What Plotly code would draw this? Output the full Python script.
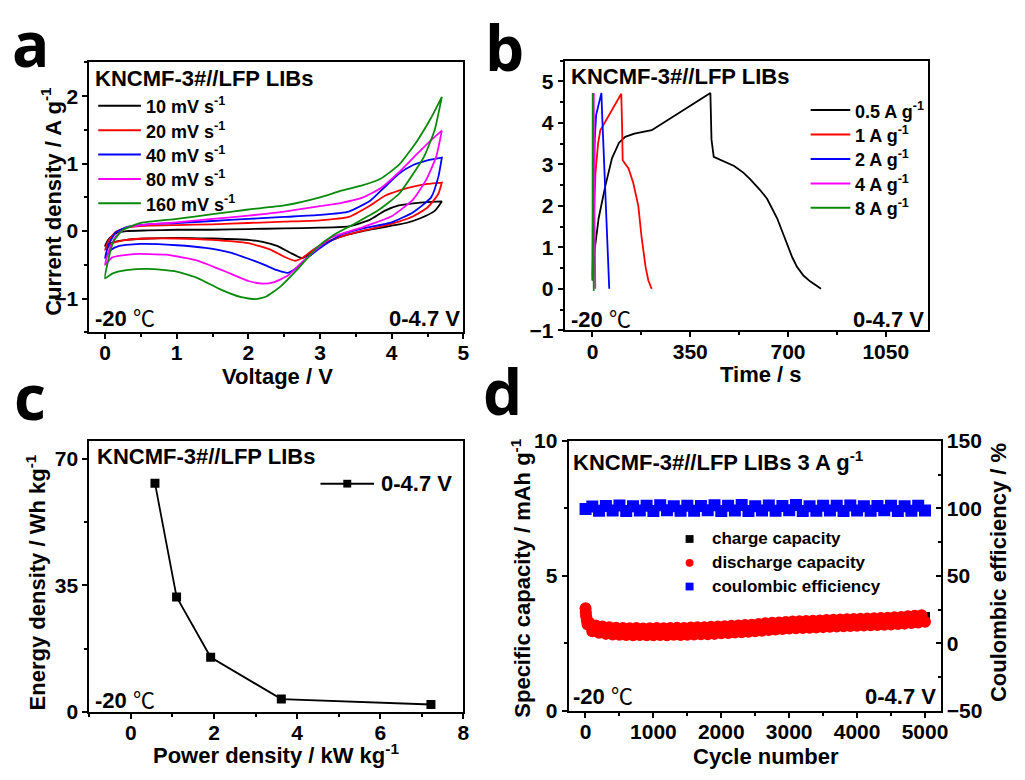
import plotly.graph_objects as go

W, H = 1025, 780
def X(px): return px / W
def Y(py): return 1 - py / H

FONT = "Liberation Sans, Arial, sans-serif"
GREEN = "#0a8a0a"

# ---------------- Panel a: CV curves ----------------
cv_labels = ["10 mV s<sup>-1</sup>", "20 mV s<sup>-1</sup>", "40 mV s<sup>-1</sup>",
             "80 mV s<sup>-1</sup>", "160 mV s<sup>-1</sup>"]
cv_colors = ["black", "red", "blue", "#ff00ff", GREEN]

cv10_fwd_v = [0, 0.05, 0.15, 0.3, 0.6, 1.0, 1.5, 2.0, 2.5, 3.0, 3.4, 3.7, 3.9, 4.1, 4.3, 4.5, 4.7]
cv10_fwd_i = [-0.22, -0.12, -0.03, 0.0, 0.01, 0.02, 0.02, 0.03, 0.04, 0.05, 0.07, 0.17, 0.30, 0.38, 0.41, 0.43, 0.44]
cv10_rev_v = [4.7, 4.6, 4.4, 4.2, 4.0, 3.8, 3.6, 3.4, 3.2, 3.0, 2.85, 2.75, 2.6, 2.4, 2.2, 2.0, 1.5, 1.0, 0.6, 0.3, 0.1, 0]
cv10_rev_i = [0.44, 0.30, 0.19, 0.12, 0.08, 0.04, 0.0, -0.05, -0.12, -0.22, -0.34, -0.40, -0.33, -0.22, -0.16, -0.13, -0.11, -0.10, -0.11, -0.13, -0.17, -0.22]

cv20_fwd_v = [0, 0.05, 0.15, 0.3, 0.6, 1.0, 1.5, 2.0, 2.5, 3.0, 3.4, 3.7, 3.9, 4.1, 4.3, 4.5, 4.7]
cv20_fwd_i = [-0.28, -0.14, -0.01, 0.05, 0.08, 0.09, 0.10, 0.12, 0.14, 0.16, 0.21, 0.38, 0.52, 0.60, 0.66, 0.70, 0.72]
cv20_rev_v = [4.7, 4.65, 4.5, 4.3, 4.1, 3.9, 3.7, 3.5, 3.3, 3.1, 2.9, 2.75, 2.65, 2.5, 2.3, 2.0, 1.5, 1.0, 0.6, 0.3, 0.1, 0]
cv20_rev_i = [0.72, 0.55, 0.35, 0.22, 0.14, 0.08, 0.03, -0.02, -0.08, -0.16, -0.28, -0.40, -0.44, -0.38, -0.27, -0.18, -0.13, -0.11, -0.11, -0.13, -0.18, -0.28]

cv40_fwd_v = [0, 0.05, 0.15, 0.3, 0.6, 1.0, 1.5, 2.0, 2.5, 3.0, 3.4, 3.7, 3.9, 4.1, 4.3, 4.5, 4.7]
cv40_fwd_i = [-0.40, -0.20, -0.02, 0.06, 0.10, 0.12, 0.15, 0.18, 0.21, 0.24, 0.29, 0.45, 0.65, 0.85, 0.98, 1.05, 1.09]
cv40_rev_v = [4.7, 4.65, 4.55, 4.3, 4.0, 3.6, 3.3, 3.0, 2.8, 2.68, 2.55, 2.4, 2.2, 2.0, 1.75, 1.4, 1.0, 0.5, 0.2, 0.08, 0]
cv40_rev_i = [1.09, 0.80, 0.50, 0.28, 0.13, 0.04, -0.05, -0.25, -0.42, -0.54, -0.62, -0.58, -0.49, -0.41, -0.32, -0.25, -0.21, -0.19, -0.22, -0.28, -0.40]

cv80_fwd_v = [0, 0.05, 0.15, 0.3, 0.6, 1.0, 1.5, 2.0, 2.5, 3.0, 3.3, 3.6, 3.85, 4.1, 4.35, 4.55, 4.7]
cv80_fwd_i = [-0.50, -0.30, -0.08, 0.05, 0.10, 0.13, 0.18, 0.23, 0.29, 0.37, 0.42, 0.50, 0.64, 0.87, 1.14, 1.35, 1.49]
cv80_rev_v = [4.7, 4.62, 4.48, 4.3, 4.0, 3.6, 3.15, 2.82, 2.55, 2.35, 2.2, 2.0, 1.75, 1.3, 0.85, 0.4, 0.1, 0]
cv80_rev_i = [1.49, 1.10, 0.76, 0.47, 0.22, 0.06, -0.10, -0.39, -0.66, -0.76, -0.78, -0.74, -0.63, -0.44, -0.35, -0.34, -0.39, -0.50]

cv160_fwd_v = [0, 0.04, 0.12, 0.25, 0.5, 1.0, 1.5, 2.0, 2.5, 3.0, 3.3, 3.6, 3.85, 4.1, 4.35, 4.55, 4.7]
cv160_fwd_i = [-0.70, -0.45, -0.15, 0.02, 0.12, 0.18, 0.25, 0.32, 0.38, 0.50, 0.60, 0.68, 0.78, 0.98, 1.33, 1.68, 1.99]
cv160_rev_v = [4.7, 4.6, 4.45, 4.3, 4.1, 3.8, 3.5, 3.2, 2.95, 2.7, 2.45, 2.25, 2.1, 1.9, 1.6, 1.3, 1.0, 0.6, 0.3, 0.1, 0]
cv160_rev_i = [1.99, 1.50, 1.10, 0.85, 0.55, 0.30, 0.12, -0.05, -0.25, -0.55, -0.82, -0.97, -1.01, -0.98, -0.86, -0.70, -0.60, -0.56, -0.58, -0.63, -0.70]

cv_sets = [
    (cv10_fwd_v, cv10_fwd_i, cv10_rev_v, cv10_rev_i),
    (cv20_fwd_v, cv20_fwd_i, cv20_rev_v, cv20_rev_i),
    (cv40_fwd_v, cv40_fwd_i, cv40_rev_v, cv40_rev_i),
    (cv80_fwd_v, cv80_fwd_i, cv80_rev_v, cv80_rev_i),
    (cv160_fwd_v, cv160_fwd_i, cv160_rev_v, cv160_rev_i),
]

# ---------------- Panel b: GCD curves ----------------
gcd_labels = ["0.5 A g<sup>-1</sup>", "1 A g<sup>-1</sup>", "2 A g<sup>-1</sup>",
              "4 A g<sup>-1</sup>", "8 A g<sup>-1</sup>"]
gcd05_t = [2, 8, 22, 46, 70, 95, 117, 150, 212, 282, 353, 422, 426, 434, 470, 507, 540, 566, 600, 625, 661, 696, 715, 732, 755, 779, 800, 818]
gcd05_v = [0.2, 0.95, 1.70, 2.48, 3.15, 3.52, 3.66, 3.74, 3.82, 4.11, 4.42, 4.72, 3.6, 3.18, 3.08, 2.96, 2.80, 2.63, 2.38, 2.17, 1.70, 1.07, 0.76, 0.53, 0.32, 0.18, 0.08, 0.0]
gcd1_t = [1, 4, 10.6, 20, 28, 60, 103, 106, 108, 129, 146, 164, 176, 190, 200, 212]
gcd1_v = [0.3, 1.5, 2.79, 3.5, 3.82, 4.2, 4.7, 3.9, 3.1, 2.9, 2.55, 2.0, 1.23, 0.53, 0.2, 0.0]
gcd2_t = [0.5, 3, 8, 13, 22, 32, 34, 45, 52, 60]
gcd2_v = [0.3, 2.0, 3.6, 4.19, 4.45, 4.72, 4.3, 2.6, 1.3, 0.0]
gcd4_t = [0, 2, 4.5, 7, 10]
gcd4_v = [0.2, 3.0, 4.72, 2.0, 0.0]
gcd8_t = [0, 0.8, 1.8, 3, 4.5]
gcd8_v = [0.2, 4.72, 3.0, 1.2, -0.05]
gcd_sets = [(gcd05_t, gcd05_v), (gcd1_t, gcd1_v), (gcd2_t, gcd2_v), (gcd4_t, gcd4_v), (gcd8_t, gcd8_v)]

# ---------------- Panel c: Ragone ----------------
power_density = [0.58, 1.10, 1.92, 3.62, 7.22]
energy_density = [63.3, 31.8, 15.1, 3.5, 2.0]

# ---------------- Panel d: cycling ----------------
cycles_100 = [1, 100, 200, 300, 400, 500, 600, 700, 800, 900, 1000,
              1100, 1200, 1300, 1400, 1500, 1600, 1700, 1800, 1900, 2000,
              2100, 2200, 2300, 2400, 2500, 2600, 2700, 2800, 2900, 3000,
              3100, 3200, 3300, 3400, 3500, 3600, 3700, 3800, 3900, 4000,
              4100, 4200, 4300, 4400, 4500, 4600, 4700, 4800, 4900, 5000]
charge_capacity = [3.70, 3.13, 3.07, 3.03, 3.01, 3.00, 2.99, 2.98, 2.98, 2.98, 2.98,
                   2.98, 2.98, 2.99, 2.99, 3.01, 3.01, 3.02, 3.02, 3.03, 3.05,
                   3.06, 3.08, 3.09, 3.11, 3.13, 3.15, 3.17, 3.19, 3.21, 3.23,
                   3.24, 3.25, 3.26, 3.27, 3.28, 3.29, 3.30, 3.32, 3.33, 3.34,
                   3.35, 3.36, 3.37, 3.38, 3.39, 3.41, 3.42, 3.44, 3.46, 3.48]
coulombic_eff = [99.5, 101.5, 98.2, 101.8, 98.5, 102.2, 98.0, 101.6, 98.4, 101.9,
                 98.1, 102.4, 98.6, 101.7, 98.2, 102.0, 98.3, 101.8, 98.7, 102.3,
                 98.1, 101.9, 98.4, 102.5, 98.0, 101.6, 98.5, 102.1, 98.2, 101.8,
                 98.6, 102.6, 98.1, 101.7, 98.3, 102.0, 98.5, 101.9, 98.0, 102.2,
                 98.4, 101.6, 98.2, 101.8, 98.6, 102.0, 98.1, 101.7, 98.3, 101.9,
                 98.5]
cycles_50 = [1, 5, 10, 20, 30,
             50, 100, 150, 200, 250, 300, 350, 400, 450, 500,
             550, 600, 650, 700, 750, 800, 850, 900, 950, 1000,
             1050, 1100, 1150, 1200, 1250, 1300, 1350, 1400, 1450, 1500,
             1550, 1600, 1650, 1700, 1750, 1800, 1850, 1900, 1950, 2000,
             2050, 2100, 2150, 2200, 2250, 2300, 2350, 2400, 2450, 2500,
             2550, 2600, 2650, 2700, 2750, 2800, 2850, 2900, 2950, 3000,
             3050, 3100, 3150, 3200, 3250, 3300, 3350, 3400, 3450, 3500,
             3550, 3600, 3650, 3700, 3750, 3800, 3850, 3900, 3950, 4000,
             4050, 4100, 4150, 4200, 4250, 4300, 4350, 4400, 4450, 4500,
             4550, 4600, 4650, 4700, 4750, 4800, 4850, 4900, 4950, 5000]
discharge_capacity = [3.80, 3.65, 3.50, 3.35, 3.20,
                      3.28, 2.95, 3.16, 2.89, 3.12, 2.85, 3.10, 2.83, 3.08, 2.82,
                      3.07, 2.81, 3.06, 2.80, 3.07, 2.81, 3.05, 2.80, 3.06, 2.80,
                      3.07, 2.81, 3.06, 2.80, 3.07, 2.82, 3.08, 2.81, 3.07, 2.82,
                      3.09, 2.83, 3.10, 2.84, 3.10, 2.84, 3.11, 2.85, 3.12, 2.87,
                      3.13, 2.88, 3.15, 2.90, 3.16, 2.91, 3.18, 2.93, 3.19, 2.95,
                      3.22, 2.97, 3.24, 2.99, 3.26, 3.01, 3.27, 3.03, 3.29, 3.05,
                      3.31, 3.06, 3.32, 3.07, 3.33, 3.08, 3.34, 3.09, 3.35, 3.10,
                      3.36, 3.11, 3.37, 3.12, 3.38, 3.13, 3.39, 3.14, 3.40, 3.15,
                      3.41, 3.16, 3.42, 3.17, 3.43, 3.18, 3.44, 3.19, 3.45, 3.20,
                      3.47, 3.22, 3.48, 3.23, 3.50, 3.25, 3.52, 3.27, 3.54, 3.30]

fig = go.Figure()

# panel a traces
for (fv, fi, rv, ri), col in zip(cv_sets, cv_colors):
    fig.add_trace(go.Scatter(x=fv + rv, y=fi + ri, mode="lines", xaxis="x", yaxis="y",
                             line=dict(color=col, width=1.8, shape="spline", smoothing=0.5),
                             showlegend=False))
# panel b traces
for (t, v), col in zip(gcd_sets, cv_colors):
    fig.add_trace(go.Scatter(x=t, y=v, mode="lines", xaxis="x2", yaxis="y2",
                             line=dict(color=col, width=1.8), showlegend=False))
# panel c trace
fig.add_trace(go.Scatter(x=power_density, y=energy_density, mode="lines+markers",
                         xaxis="x3", yaxis="y3", line=dict(color="black", width=1.8),
                         marker=dict(symbol="square", size=9, color="black"), showlegend=False))
# panel d traces
fig.add_trace(go.Scatter(x=cycles_100, y=coulombic_eff, mode="markers", xaxis="x4", yaxis="y5",
                         marker=dict(symbol="square", size=12, color="blue", line=dict(width=0)),
                         showlegend=False))
fig.add_trace(go.Scatter(x=cycles_100, y=charge_capacity, mode="markers", xaxis="x4", yaxis="y4",
                         marker=dict(symbol="square", size=10, color="black", line=dict(width=0)),
                         showlegend=False))
fig.add_trace(go.Scatter(x=cycles_50, y=discharge_capacity, mode="markers", xaxis="x4", yaxis="y4",
                         marker=dict(symbol="circle", size=12, color="red", line=dict(width=0)),
                         showlegend=False))

tickfont = dict(family=FONT, size=21, color="black", weight="bold")

def xax(domain, rng, dtick, minor_dtick, anchor, standoff=-4):
    return dict(domain=domain, range=rng, dtick=dtick, tick0=0, anchor=anchor,
                showline=True, linewidth=2, linecolor="black", mirror=True,
                ticks="outside", ticklen=5, tickwidth=2, tickcolor="black",
                ticklabelstandoff=standoff,
                minor=dict(dtick=minor_dtick, ticks="outside", ticklen=3, tickwidth=2, tickcolor="black"),
                showgrid=False, zeroline=False, tickfont=tickfont)

def yax(domain, rng, dtick, minor_dtick, anchor):
    return xax(domain, rng, dtick, minor_dtick, anchor, standoff=0)

layout = dict(width=W, height=H, margin=dict(l=0, r=0, t=0, b=0),
              paper_bgcolor="white", plot_bgcolor="rgba(0,0,0,0)", showlegend=False)
layout["xaxis"] = xax([X(90), X(467)], [-0.22, 5], 1, 0.5, "y")
layout["yaxis"] = yax([Y(330), Y(52)], [-1.5, 2.5], 1, 0.5, "x")
layout["xaxis2"] = xax([X(569), X(935)], [-100, 1200], 350, 175, "y2")
layout["yaxis2"] = yax([Y(328), Y(50)], [-1, 5.5], 1, 0.5, "x2")
layout["xaxis3"] = xax([X(90), X(467)], [-1, 8], 2, 1, "y3")
layout["yaxis3"] = yax([Y(721), Y(442)], [0, 75], 35, 17.5, "x3")
layout["xaxis4"] = xax([X(573), X(948)], [-250, 5230], 1000, 500, "y4")
layout["yaxis4"] = yax([Y(720), Y(442)], [0, 10], 5, 2.5, "x4")
y5 = yax([Y(720), Y(442)], [-50, 150], 50, 25, "x4")
y5.update(overlaying="y4", side="right", mirror=False, ticks="inside",
          minor=dict(dtick=25, ticks="inside", ticklen=3, tickwidth=2, tickcolor="black"))
layout["yaxis5"] = y5
fig.update_layout(**layout)

anns = []
shapes = []
def ann(text, x, y, size=22, xanchor="left", angle=0, family=FONT, bold=True):
    t = f"<b>{text}</b>" if bold else text
    anns.append(dict(text=t, x=X(x), y=Y(y), xref="paper", yref="paper", showarrow=False,
                     xanchor=xanchor, yanchor="middle", textangle=angle,
                     font=dict(family=family, size=size, color="black")))

DEG = "<b>-20 </b><span style='font-weight:normal'>℃</span>"
def deg(x, y):
    anns.append(dict(text=DEG, x=X(x), y=Y(y), xref="paper", yref="paper", showarrow=False,
                     xanchor="left", yanchor="middle",
                     font=dict(family=FONT + ", Noto Sans CJK SC", size=22, color="black")))

# panel letters
LET = "Open Sans, sans-serif"
ann("a", 10, 32, size=62, family=LET)
ann("b", 487, 36, size=62, family=LET)
ann("c", 12, 396, size=62, family=LET)
ann("d", 485, 390, size=62, family=LET)

# panel a texts
ann("KNCMF-3#//LFP LIBs", 94, 69)
for i, (lab, col) in enumerate(zip(cv_labels, cv_colors)):
    yy = 96.7 + 25.1 * i
    shapes.append(dict(type="line", xref="paper", yref="paper", x0=X(99), x1=X(142),
                       y0=Y(yy), y1=Y(yy), line=dict(color=col, width=2)))
    ann(lab, 145, yy, size=18)
deg(94, 316)
ann("0-4.7 V", 466, 316, xanchor="right")
ann("Voltage / V", 280, 376, xanchor="center")
ann("Current density / A g<sup>-1</sup>", 52, 195, xanchor="center", angle=-90)

# panel b texts
ann("KNCMF-3#//LFP LIBs", 573, 66)
for i, (lab, col) in enumerate(zip(gcd_labels, cv_colors)):
    yy = 101 + 25.2 * i
    shapes.append(dict(type="line", xref="paper", yref="paper", x0=X(817), x1=X(857),
                       y0=Y(yy), y1=Y(yy), line=dict(color=col, width=2)))
    ann(lab, 860, yy, size=18)
deg(573, 317)
ann("0-4.7 V", 933, 317, xanchor="right")
ann("Time / s", 767, 373, xanchor="center")

# panel c texts
ann("KNCMF-3#//LFP LIBs", 96, 458)
shapes.append(dict(type="line", xref="paper", yref="paper", x0=X(323), x1=X(377),
                   y0=Y(486), y1=Y(486), line=dict(color="black", width=2)))
shapes.append(dict(type="rect", xref="paper", yref="paper", x0=X(346), x1=X(354),
                   y0=Y(490), y1=Y(482), fillcolor="black", line=dict(width=0)))
ann("0-4.7 V", 382, 486)
deg(94, 709)
ann("Power density / kW kg<sup>-1</sup>", 278, 765, xanchor="center")
ann("Energy density / Wh kg<sup>-1</sup>", 36, 588, xanchor="center", angle=-90)

# panel d texts
ann("KNCMF-3#//LFP LIBs 3 A g<sup>-1</sup>", 575, 463)
d_leg = [("charge capacity", "black", "rect"), ("discharge capacity", "red", "circle"),
         ("coulombic efficiency", "blue", "rect")]
for i, (lab, col, sh) in enumerate(d_leg):
    yy = 543 + 24.5 * i
    shapes.append(dict(type=sh, xref="paper", yref="paper", x0=X(691), x1=X(699),
                       y0=Y(yy + 4), y1=Y(yy - 4), fillcolor=col, line=dict(width=0)))
    ann(lab, 716, yy, size=17)
deg(575, 705)
ann("0-4.7 V", 945, 705, xanchor="right")
ann("Cycle number", 772, 767, xanchor="center")
ann("Specific capacity / mAh g<sup>-1</sup>", 525, 583, xanchor="center", angle=-90)
ann("Coulombic efficiency / %", 1007, 578, xanchor="center", angle=-90)

fig.update_layout(annotations=anns, shapes=shapes)
fig.write_html("out.html", config={"displayModeBar": False},
               post_script="document.body.style.margin='0';document.body.style.padding='0';"
                           "document.documentElement.style.overflow='hidden';")
